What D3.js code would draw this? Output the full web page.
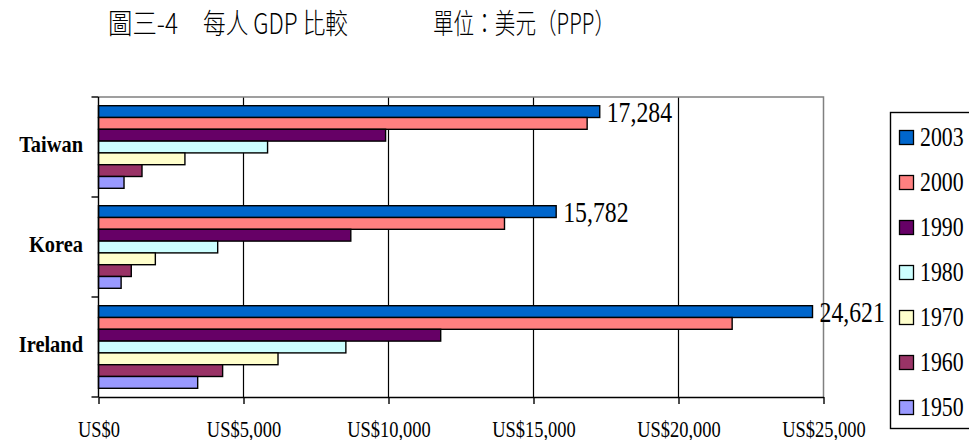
<!DOCTYPE html>
<html>
<head>
<meta charset="utf-8">
<script src="https://cdn.jsdelivr.net/npm/d3@7"></script>
<style>
  body { margin: 0; background: #fff; }
  svg { display: block; }
</style>
</head>
<body>
<div id="my_dataviz"></div>
<script>
// data (US$, PPP)
var countries = ["Taiwan", "Korea", "Ireland"];
var years = ["2003", "2000", "1990", "1980", "1970", "1960", "1950"];
var gdp2003 = [17284, 15782, 24621];
var gdp2000 = [16850, 14000, 21850];
var gdp1990 = [9900, 8700, 11800];
var gdp1980 = [5830, 4110, 8530];
var gdp1970 = [2980, 1960, 6190];
var gdp1960 = [1500, 1130, 4280];
var gdp1950 = [880, 780, 3420];
var xTicks = [0, 5000, 10000, 15000, 20000, 25000];
var colorkeys = ["#0066CC", "#FF8080", "#660066", "#CCFFFF", "#FFFFCC", "#993366", "#9999FF"];

var series = [gdp2003, gdp2000, gdp1990, gdp1980, gdp1970, gdp1960, gdp1950];

var W = 969, H = 440;
var plot = { left: 98.5, right: 823.5, top: 97, bottom: 397 };
var serif = "'Liberation Serif', 'Times New Roman', serif";
var squeeze = 0.82; // the original text is drawn narrow

var svg = d3.select("#my_dataviz")
  .append("svg")
  .attr("width", W)
  .attr("height", H);

// title
var cjk = "'Noto Sans CJK TC', 'Noto Sans CJK SC', sans-serif";
[["圖三-4", 108, 70], ["每人 GDP 比較", 203, 145], ["單位：美元（PPP）", 433, 182]].forEach(function(t) {
  svg.append("text")
    .attr("x", t[1]).attr("y", 34)
    .attr("textLength", t[2])
    .attr("lengthAdjust", "spacingAndGlyphs")
    .style("font-family", cjk)
    .style("font-size", "28px")
    .style("font-weight", 300)
    .style("fill", "#000")
    .text(t[0]);
});

// scales
var x = d3.scaleLinear()
  .domain([0, 25000])
  .range([plot.left, plot.right]);

var pad = 0.174;
var y0 = d3.scaleBand()
  .domain(countries)
  .range([plot.top, plot.bottom])
  .paddingInner(pad)
  .paddingOuter(pad / 2);

var y1 = d3.scaleBand()
  .domain(years)
  .range([0, y0.bandwidth()]);

var color = d3.scaleOrdinal()
  .domain(years)
  .range(colorkeys);

// gridlines
svg.append("g")
  .selectAll("line")
  .data(xTicks.slice(1, -1))
  .enter()
  .append("line")
  .attr("x1", function(d) { return x(d); })
  .attr("x2", function(d) { return x(d); })
  .attr("y1", plot.top)
  .attr("y2", plot.bottom)
  .attr("stroke", "#000")
  .attr("stroke-width", 1.2);

// plot border, top + right in grey
svg.append("path")
  .attr("d", "M" + plot.left + "," + plot.top + "H" + plot.right + "V" + plot.bottom)
  .attr("fill", "none")
  .attr("stroke", "#808080")
  .attr("stroke-width", 1.5);

// bars
var groups = svg.append("g")
  .selectAll("g")
  .data(countries)
  .enter()
  .append("g")
  .attr("transform", function(d) { return "translate(0," + y0(d) + ")"; });

groups.selectAll("rect")
  .data(function(c, ci) {
    return years.map(function(yr, si) { return { year: yr, value: series[si][ci] }; });
  })
  .enter()
  .append("rect")
  .attr("x", x(0))
  .attr("y", function(d) { return y1(d.year); })
  .attr("width", function(d) { return x(d.value) - x(0); })
  .attr("height", y1.bandwidth())
  .attr("fill", function(d) { return color(d.year); })
  .attr("stroke", "#000")
  .attr("stroke-width", 1.4);

// labels on the 2003 bars
groups.append("text")
  .attr("transform", function(c, ci) {
    return "translate(" + (x(gdp2003[ci]) + 7) + "," + (y1("2003") + y1.bandwidth() / 2 + 10) + ") scale(" + squeeze + ",1)";
  })
  .style("font-family", serif)
  .style("font-size", "29px")
  .text(function(c, ci) { return d3.format(",")(gdp2003[ci]); });

// x axis
var xAxis = svg.append("g")
  .attr("transform", "translate(0," + plot.bottom + ")")
  .call(d3.axisBottom(x)
    .tickValues(xTicks)
    .tickSize(7)
    .tickSizeOuter(0)
    .tickPadding(17)
    .tickFormat(function(d) { return "US$" + d3.format(",")(d); }));
xAxis.select(".domain").attr("stroke", "#000").attr("stroke-width", 1.4);
xAxis.selectAll(".tick line").attr("stroke", "#000").attr("stroke-width", 1.4);
xAxis.selectAll(".tick text")
  .attr("transform", "scale(" + squeeze + ",1)")
  .style("font-family", serif)
  .style("font-size", "22.5px")
  .style("fill", "#000");

// y axis: line + ticks between categories
var step = y0.step();
var bounds = countries.map(function(c) { return y0(c) - step * pad / 2; });
bounds.push(plot.bottom);
svg.append("line")
  .attr("x1", plot.left).attr("x2", plot.left)
  .attr("y1", plot.top).attr("y2", plot.bottom)
  .attr("stroke", "#000").attr("stroke-width", 1.4);
svg.append("g")
  .selectAll("line")
  .data(bounds)
  .enter()
  .append("line")
  .attr("x1", plot.left - 7).attr("x2", plot.left)
  .attr("y1", function(d) { return d; })
  .attr("y2", function(d) { return d; })
  .attr("stroke", "#000").attr("stroke-width", 1.4);

svg.append("g")
  .selectAll("text")
  .data(countries)
  .enter()
  .append("text")
  .attr("transform", function(d) {
    return "translate(83," + (y0(d) + y0.bandwidth() / 2 + 5) + ") scale(0.85,1)";
  })
  .attr("text-anchor", "end")
  .style("font-family", serif)
  .style("font-weight", "bold")
  .style("font-size", "24px")
  .text(function(d) { return d; });

// legend
var legend = svg.append("g");
legend.append("rect")
  .attr("x", 890.5).attr("y", 112.5)
  .attr("width", 100).attr("height", 316)
  .attr("fill", "#fff")
  .attr("stroke", "#000")
  .attr("stroke-width", 1.4);

var rows = legend.selectAll("g.row")
  .data(years)
  .enter()
  .append("g")
  .attr("class", "row")
  .attr("transform", function(d, i) { return "translate(0," + (138 + i * 45) + ")"; });
rows.append("rect")
  .attr("x", 899.5).attr("y", -7.5)
  .attr("width", 14).attr("height", 14)
  .attr("fill", function(d) { return color(d); })
  .attr("stroke", "#000")
  .attr("stroke-width", 1.3);
rows.append("text")
  .attr("transform", "translate(920,8) scale(0.78,1)")
  .style("font-family", serif)
  .style("font-size", "28px")
  .text(function(d) { return d; });
</script>
</body>
</html>
